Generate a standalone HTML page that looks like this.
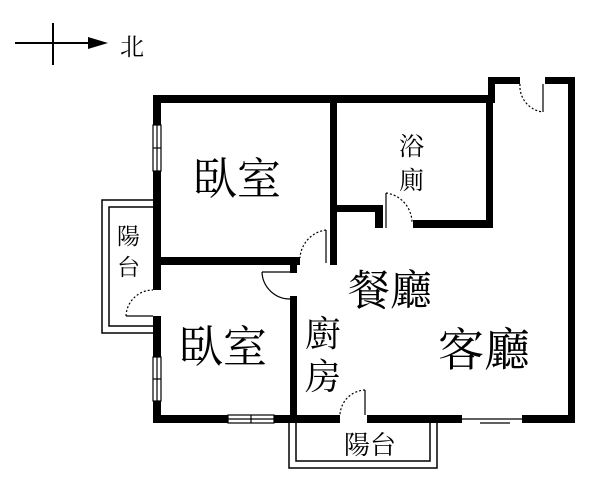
<!DOCTYPE html>
<html><head><meta charset="utf-8"><style>
body{margin:0;background:#fff;width:607px;height:479px;overflow:hidden}
svg{display:block}
text{font-family:"Liberation Serif","Noto Serif CJK SC","Noto Sans CJK TC",serif;fill:#000}
</style></head><body>
<svg width="607" height="479" viewBox="0 0 607 479">
<!-- compass -->
<line x1="15" y1="43" x2="92" y2="43" stroke="#000" stroke-width="2"/>
<line x1="53" y1="23" x2="53" y2="65" stroke="#000" stroke-width="2"/>
<polygon points="88,37 108,43 88,49" fill="#000"/>
<text x="120" y="55" font-size="24">北</text>

<!-- balconies -->
<path d="M153 200 H102 V333 H153" fill="none" stroke="#000" stroke-width="1.5"/>
<path d="M153 207 H109 V326 H153" fill="none" stroke="#000" stroke-width="1.5"/>
<path d="M289 423 V468 H437 V423" fill="none" stroke="#000" stroke-width="1.5"/>
<path d="M296 423 V461 H430 V423" fill="none" stroke="#000" stroke-width="1.5"/>

<g fill="#000">
<rect x="153" y="95" width="8" height="195"/>
<rect x="153" y="316" width="8" height="107"/>
<rect x="153" y="95" width="342" height="8"/>
<rect x="488" y="77" width="7" height="26"/>
<rect x="488" y="77" width="32" height="7"/>
<rect x="545" y="77" width="30" height="7"/>
<rect x="568" y="77" width="7" height="346"/>
<rect x="153" y="415" width="187" height="8"/>
<rect x="367" y="415" width="95" height="8"/>
<rect x="522" y="415" width="53" height="8"/>
<rect x="153" y="257" width="147" height="8"/>
<rect x="330" y="95" width="7" height="170"/>
<rect x="290" y="296" width="7" height="127"/>
<rect x="337" y="205" width="46" height="7"/>
<rect x="375" y="205" width="8" height="23"/>
<rect x="413" y="220" width="80" height="8"/>
<rect x="486" y="95" width="7" height="133"/>
<rect x="290" y="265" width="7" height="8"/>
</g>

<g fill="#fff" stroke="#000" stroke-width="1.2">
<rect x="153" y="125" width="8" height="46"/>
<rect x="153" y="357" width="8" height="44"/>
<rect x="228" y="415" width="46" height="8"/>
</g>
<g stroke="#000" stroke-width="1.2">
<line x1="157" y1="125" x2="157" y2="171"/><line x1="153" y1="148" x2="161" y2="148"/>
<line x1="157" y1="357" x2="157" y2="401"/><line x1="153" y1="379" x2="161" y2="379"/>
<line x1="228" y1="419" x2="274" y2="419"/><line x1="251" y1="415" x2="251" y2="423"/>
<line x1="462" y1="419" x2="522" y2="419"/>
<line x1="480" y1="423" x2="510" y2="423"/>
</g>

<g fill="none" stroke="#000" stroke-width="1.2">
<line x1="126" y1="316" x2="153" y2="316"/>
<path d="M126 316 A27 27 0 0 1 153 290" stroke-dasharray="2,2"/>
<line x1="326" y1="230" x2="326" y2="263"/>
<path d="M326 230 A30 30 0 0 0 300 258" stroke-dasharray="2,2"/>
<line x1="262" y1="272" x2="290" y2="272"/>
<path d="M262 272 A28 28 0 0 0 290 299"/>
<line x1="365" y1="390" x2="365" y2="415"/>
<path d="M365 390 A26 26 0 0 0 340 415" stroke-dasharray="2,2"/>
<line x1="386" y1="193" x2="386" y2="228"/>
<path d="M386 193 A30 30 0 0 1 412 222" stroke-dasharray="2,2"/>
<line x1="543" y1="84" x2="543" y2="112"/>
<path d="M520 84 A26 26 0 0 0 543 112" stroke-dasharray="2,2"/>
</g>

<text x="193" y="194" font-size="44">臥室</text>
<text x="399" y="155" font-size="25">浴</text>
<text x="399" y="189" font-size="25">廁</text>
<text x="117" y="244" font-size="23">陽</text>
<text x="117" y="275" font-size="23">台</text>
<text x="348" y="305" font-size="42">餐廳</text>
<text x="179" y="362" font-size="44">臥室</text>
<text x="305" y="346" font-size="36">廚</text>
<text x="305" y="389" font-size="36">房</text>
<text x="438" y="366" font-size="46">客廳</text>
<text x="344" y="454" font-size="26">陽台</text>
</svg>
</body></html>
